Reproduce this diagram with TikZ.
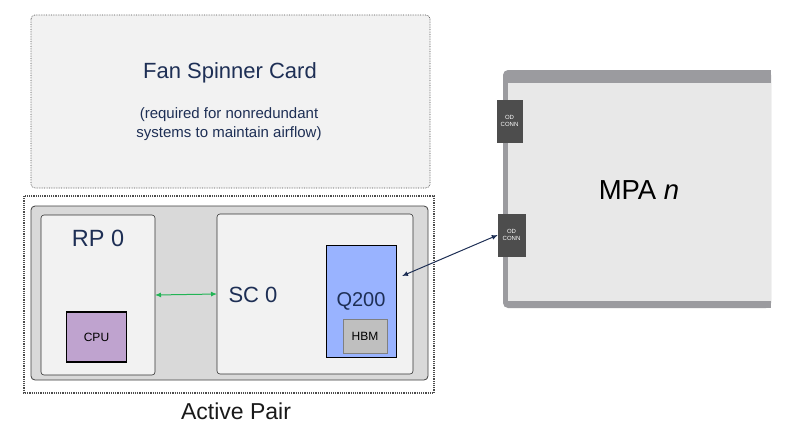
\documentclass[tikz,border=0pt]{standalone}
\usepackage{fontspec}
\setmainfont{Liberation Sans}
\usetikzlibrary{arrows.meta}
\definecolor{navy}{HTML}{1E2F55}
\definecolor{cardfill}{HTML}{F2F2F2}
\definecolor{pairfill}{HTML}{D9D9D9}
\definecolor{cpufill}{HTML}{BFA3CF}
\definecolor{qfill}{HTML}{99B3FF}
\definecolor{hbmfill}{HTML}{BFBFBF}
\definecolor{mpaedge}{HTML}{9B9B9F}
\definecolor{mpafill}{HTML}{E8E8E8}
\definecolor{connfill}{HTML}{4D4D4D}
\definecolor{linkgreen}{HTML}{22B455}
\begin{document}
\begin{tikzpicture}[x=1pt,y=-1pt,
  card/.style={draw=black!80,fill=cardfill,rounded corners=3pt,line width=0.6pt},
  chip/.style={draw=black,line width=1.6pt},
  conn/.style={fill=connfill,draw=connfill,text=white,font=\fontsize{6}{7}\selectfont,align=center,inner sep=0pt},
  lbl/.style={text=navy}]
\useasboundingbox (0,0) rectangle (800,440);
\fill[white] (0,0) rectangle (800,440);
% Fan spinner card
\draw[draw=black!70,fill=cardfill,rounded corners=4pt,densely dotted,line width=0.7pt] (31,15) rectangle (430,188);
\node[lbl,font=\fontsize{22}{26}\selectfont] (fan) at (230,73) {Fan Spinner Card};
\node[lbl,font=\fontsize{15}{18.5}\selectfont,align=center] (fannote) at (229,124) {(required for nonredundant\\systems to maintain airflow)};
% Active pair
\draw[black!70,densely dotted,line width=1.2pt] (24,196) rectangle (434,393);
\draw[draw=black!75,fill=pairfill,rounded corners=4pt,line width=0.8pt] (31,206) rectangle (428,380);
\node[font=\fontsize{23}{27}\selectfont,text=black!90] (ap) at (236,411) {Active Pair};
% RP 0
\draw[card] (41,215) rectangle (155,375);
\node[lbl,font=\fontsize{23.5}{28}\selectfont] (rp) at (98,238) {RP 0};
\node[chip,fill=cpufill,minimum width=60pt,minimum height=50pt,font=\fontsize{12}{14}\selectfont] (cpu) at (96.5,337) {CPU};
% SC 0
\draw[card] (217,214) rectangle (413,374);
\node[lbl,font=\fontsize{22}{26}\selectfont] (sc) at (253,295) {SC 0};
\node[chip,fill=qfill,minimum width=70pt,minimum height=112pt] (q) at (361.5,301.5) {};
\node[lbl,font=\fontsize{20}{24}\selectfont] (qt) at (361,301) {Q200};
\node[draw=black!50,fill=hbmfill,minimum width=44pt,minimum height=34pt,font=\fontsize{12}{14}\selectfont,line width=0.6pt] (hbm) at (365,336) {HBM};
% RP-SC link
\coordinate (rpE) at (155,295);
\coordinate (scW) at (217,294);
\draw[linkgreen,line width=1pt,{Latex[length=6pt,width=5pt]}-{Latex[length=6pt,width=5pt]}] (rpE) -- (scW);
% MPA
\fill[mpaedge,rounded corners=5pt] (503,70) -- (771,70) -- (771,308) -- (503,308) -- cycle;
\fill[mpaedge] (700,70) rectangle (771,308);
\fill[mpafill] (508,83) rectangle (771,301);
\node[font=\fontsize{27.5}{32}\selectfont] (mpa) at (639,190) {MPA \textit{n}};
\node[conn,minimum width=25pt,minimum height=42pt] (od1) at (509.5,121) {OD\\CONN};
\node[conn,minimum width=27pt,minimum height=42pt] (od2) at (511.5,235) {OD\\CONN};
% link to Q200
\coordinate (qE) at (402,276);
\draw[navy,line width=1pt,{Latex[length=6pt,width=5pt]}-{Latex[length=6pt,width=5pt]}] (qE) -- (od2.west);
\end{tikzpicture}
\end{document}
